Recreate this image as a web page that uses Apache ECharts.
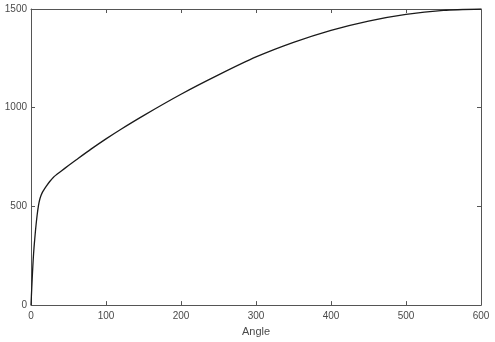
<!DOCTYPE html>
<html>
<head>
<meta charset="utf-8">
<script src="https://cdn.jsdelivr.net/npm/echarts@6/dist/echarts.min.js"></script>
<style>html,body{margin:0;padding:0;background:#fff}#c{width:495px;height:342px}</style>
</head>
<body>
<div id="c"></div>
<script>
var angle = [0,1,2,3,4,5,6,8,10,12,15,20,25,30,40,50,60,80,100,120,150,200,250,300,350,400,450,500,550,600];
var value = [0,85,165,235,290,335,378,450,505,540,570,600,626,648,678,707,735,790,842,891,960,1068,1166,1257,1331,1392,1439,1473,1493,1500];
var xTicks = [0,100,200,300,400,500,600];
var yTicks = [0,500,1000,1500];

var chart = echarts.init(document.getElementById('c'));
var axisLine = {show:true, onZero:false, lineStyle:{color:'#555555', width:1}};
var tick = {show:true, inside:true, length:4, lineStyle:{color:'#555555'}};
var fmt = function(v){ return String(v); };
var font = {fontFamily:'Liberation Sans, Arial, sans-serif', fontSize:10, color:'#4a4a4a', formatter:fmt};
chart.setOption({
  animation:false,
  grid:{left:31, right:14, top:9, bottom:36, containLabel:false},
  xAxis:[{
    type:'value', min:xTicks[0], max:xTicks[xTicks.length-1], interval:100, position:'bottom',
    name:'Angle', nameLocation:'middle', nameGap:20,
    nameTextStyle:{fontFamily:'Liberation Sans, Arial, sans-serif', fontSize:11, color:'#4a4a4a'},
    axisLine:axisLine, axisTick:tick, splitLine:{show:false},
    axisLabel:Object.assign({margin:6}, font)
  },{
    type:'value', min:0, max:600, interval:100, position:'top',
    axisLine:axisLine, axisTick:tick, splitLine:{show:false}, axisLabel:{show:false}
  }],
  yAxis:[{
    type:'value', min:yTicks[0], max:yTicks[yTicks.length-1], interval:500, position:'left',
    axisLine:axisLine, axisTick:tick, splitLine:{show:false},
    axisLabel:Object.assign({margin:4}, font)
  },{
    type:'value', min:0, max:1500, interval:500, position:'right',
    axisLine:axisLine, axisTick:tick, splitLine:{show:false}, axisLabel:{show:false}
  }],
  series:[{
    type:'line', xAxisIndex:0, yAxisIndex:0, smooth:0.25, showSymbol:false,
    lineStyle:{color:'#1a1a1a', width:1.3},
    data: angle.map(function(a,i){return [a, value[i]];})
  }]
});
</script>
</body>
</html>
